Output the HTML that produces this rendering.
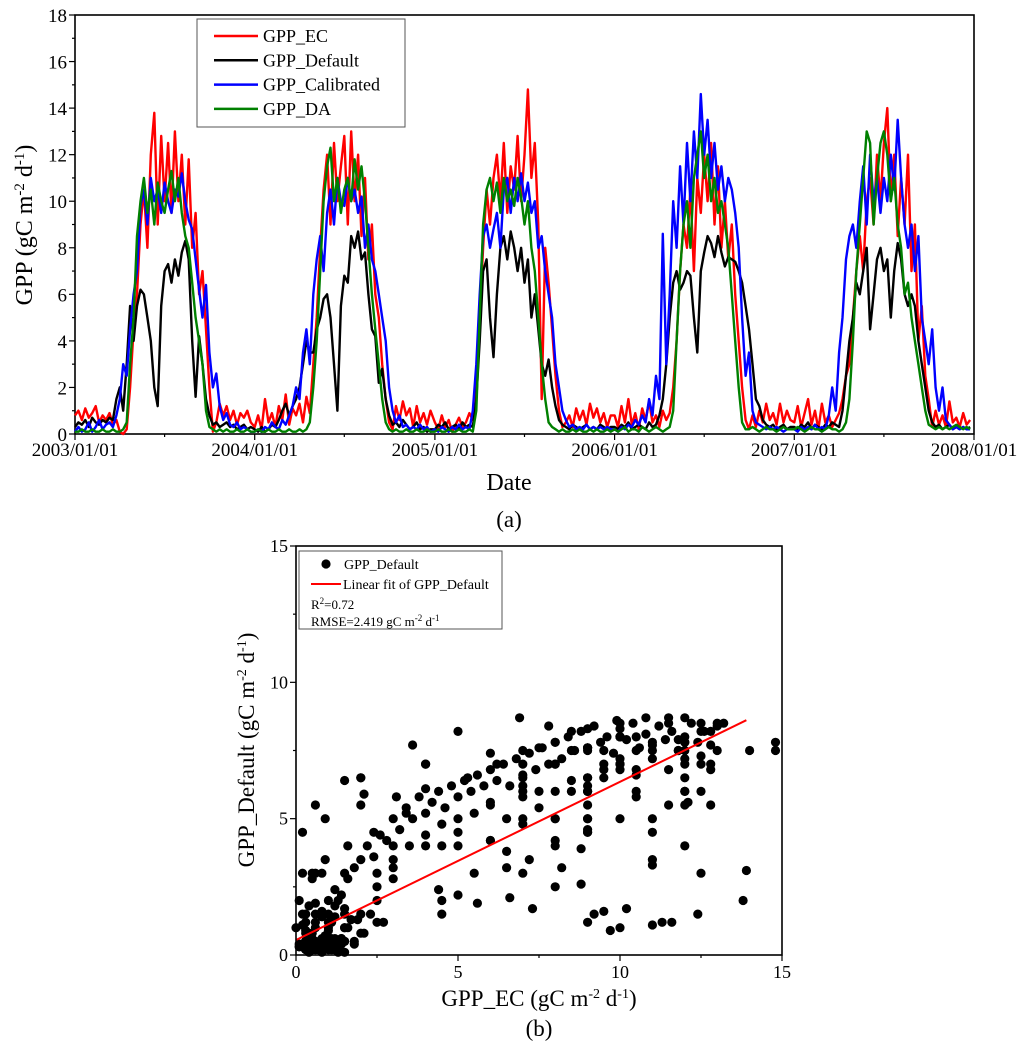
<!DOCTYPE html>
<html><head><meta charset="utf-8"><style>
body{margin:0;background:#fff;}
svg text{font-family:"Liberation Serif",serif;fill:#000;}
</style></head><body>
<svg id="svg" width="1024" height="1049" xmlns="http://www.w3.org/2000/svg">
<g id="topChart"></g>
<g id="botChart"></g>
</svg>
<script>
// ---------- Time series data (weekly samples, one array per year) ----------
const years = [2003, 2004, 2005, 2006, 2007];
const ecData = [
[0.8,1.0,0.6,1.1,0.7,0.9,1.2,0.5,0.8,0.6,0.9,0.4,0.6,0.1,0,0.2,2,4.5,6,9,10.5,8,12,13.8,9,12.8,10,12.5,9.5,13,10,12,9,11.8,8,9.5,6,7,4.5,2,0.1,0.5,1.3,0.8,1.2,0.6,1.0,0.4,0.9,0.7,1.0,0.5],
[0.3,0.8,0.2,1.5,0.5,0.9,0.3,1.2,0.6,1.7,0.4,1.1,0.8,1.3,0.5,1.6,0.9,3,5,8,10.5,12,9,12.5,10,11.5,12.8,9,13,10,12,8.5,11,7.5,9,6,5,3,1.5,0.5,0.2,1.2,0.6,1.4,0.8,1.1,0.3,1.2,0.5,0.9,0.4,1.0],
[0.5,0.2,0.8,0.3,0.6,0.1,0.4,0.7,0.3,0.5,0.9,0.6,2,5,8,10.5,9,11,12,10,12.5,9.5,11.5,10.5,12.8,10,12,14.8,11,12.5,9,1.5,8,6.5,4.5,2.5,1,0.3,0.5,0.8,0.3,1.1,0.6,1.0,0.4,1.3,0.7,1.1,0.5,0.9,0.3,0.8],
[0.8,0.3,1.2,0.5,1.5,0.4,0.9,0.2,1.1,0.6,1.4,0.5,0.8,0.3,1.0,0.6,0.9,2,4,7,9,8,10.5,7,11,9.5,12,10,12.5,9,11.5,8,10,7.5,9,6,4,2,0.6,0.2,0.8,0.3,1.0,0.5,1.3,0.6,0.9,0.4,1.3,0.5,1.0,0.6],
[0.5,1.2,0.3,0.9,1.5,0.4,1.0,0.2,1.3,0.5,0.8,0.3,0.6,0.9,1.5,2.5,3,5,7,8.5,7,10,11,9,12,10,12.5,14,10,12,8.5,11,9,12,7,9,4,5.5,2.5,1.5,0.3,1.0,0.4,0.8,0.3,1.4,0.5,0.7,0.3,0.9,0.4,0.6]
];
const defData = [
[0.3,0.5,0.4,0.6,0.3,0.7,0.5,0.4,0.6,0.5,0.7,0.6,1.5,2,1,3,5.5,4,5.5,6.2,6,5,4,2,1.2,5.5,7,7.3,6.5,7.5,6.8,7.8,8.3,7.5,4,1.6,4.2,3,1.5,0.8,0.4,0.5,0.3,0.4,0.5,0.3,0.4,0.2,0.3,0.4,0.2,0.3],
[0.2,0.1,0.3,0.1,0.2,0.4,0.3,0.6,1.0,1.3,0.8,1.2,1.5,2,3,4,3.5,3.5,4.5,5,5.8,6,5,3,1,5.5,6.8,6.5,8.5,8,8.7,7.5,7.8,6,4.5,4.2,2.2,2.8,1.5,0.8,0.4,0.5,0.3,0.6,0.4,0.2,0.3,0.5,0.2,0.3,0.1,0.2],
[0.2,0.4,0.3,0.5,0.2,0.3,0.4,0.2,0.5,0.3,0.4,0.3,1.5,4,7,7.5,5,3.3,6,8,8.5,7.5,8.7,8,7,8,6.5,7.5,5,6,4.5,3,2.5,3.2,2,1.2,0.6,0.4,0.3,0.2,0.4,0.3,0.2,0.3,0.4,0.2,0.3,0.2,0.4,0.3,0.2,0.3],
[0.3,0.2,0.4,0.3,0.5,0.2,0.3,0.4,0.3,0.2,0.5,0.3,0.4,0.8,1.5,3,5,6.5,7,6.2,6.5,7,6.8,5,3.5,7,7.8,8.5,8.2,7.6,8.5,7.8,7.2,7.6,7.5,7.4,7,6.5,5.5,4.5,3,1.5,1.2,0.6,0.4,0.3,0.4,0.2,0.3,0.4,0.2,0.3],
[0.3,0.2,0.4,0.3,0.5,0.2,0.4,0.3,0.2,0.4,0.3,0.5,0.4,0.3,1,2.5,4,5,6.5,6,7,8,4.5,6,7.5,8,7,7.5,5,7,8.2,7.5,6,5.5,6,5.5,4,3,2,1,0.5,0.3,0.4,0.2,0.3,0.4,0.2,0.3,0.2,0.3,0.2,0.3]
];
const calData = [
[0.1,0.3,0.1,0.2,0.5,0.1,0.3,0.6,0.2,0.4,0.5,0.3,0.8,1.5,3,2.5,4.5,6,7,9.8,10.5,9,11,10,10.5,9.5,10.8,10,9.5,10.5,10.2,11.2,10,9.2,8.8,7.5,6.2,5,6.4,3.5,2,2.6,1.2,0.6,0.9,0.4,0.3,0.5,0.2,0.3,0.2,0.1],
[0.1,0.2,0.1,0.3,0.2,0.5,0.3,0.2,0.6,0.4,0.8,1.2,2,1.5,3.5,4.5,3,6,7.5,8.5,7,9.5,10.5,9,11,10,9.8,11,10,10.5,9.5,10.2,8,9,7.5,7,6,5,4,2,1,0.5,0.8,0.3,0.4,0.2,0.3,0.2,0.4,0.2,0.3,0.1],
[0.2,0.1,0.3,0.2,0.1,0.3,0.2,0.4,0.2,0.3,0.2,1,3,6,8.5,9,8,8.8,9.5,8,10.5,11,9.5,11,10,11.2,10,10.8,9.5,10,8,8.5,7,6,5,3,2,1,0.6,0.3,0.4,0.2,0.3,0.2,0.4,0.2,0.3,0.2,0.3,0.2,0.3,0.2],
[0.2,0.1,0.3,0.2,0.4,0.3,0.6,0.4,0.8,0.5,1.5,0.8,2.5,1.5,8.6,3,6,10,8,11.5,9,12.5,10,13,11,14.6,12,13.5,11,12.5,10.5,11.5,10,11,10.5,9.5,8,5,2.5,3.5,1,0.5,0.4,0.3,0.2,0.3,0.2,0.3,0.2,0.1,0.2,0.2],
[0.2,0.1,0.3,0.2,0.3,0.2,0.4,0.2,0.3,0.2,0.8,2,1,3.5,5,7.5,8.5,9,8,10,11.5,9,12,10,11,9.5,11,10,12,10.5,13.5,11,9,8,9,7,8.5,5,4,3,4.5,2,1,2,0.6,0.4,0.2,0.3,0.2,0.3,0.2,0.2]
];
const daData = [
[0.1,0.1,0.2,0.1,0.1,0.2,0.1,0.1,0.2,0.1,0.1,0.2,0.1,0.1,0.2,0.5,3,5,8.5,10,11,9.5,10.5,9,10.8,10,9.5,10.5,11.3,10,11,9.5,8.5,8,6.5,5,4,3,1,0.3,0.2,0.1,0.2,0.1,0.2,0.1,0.1,0.2,0.1,0.1,0.2,0.1],
[0.1,0.2,0.1,0.1,0.2,0.1,0.1,0.2,0.1,0.1,0.2,0.1,0.1,0.2,0.1,0.2,0.5,2,4,7,10,11.5,12.3,10,11,9.5,10.5,11,10,11.8,10.5,11.5,10,8,6,4.5,3,1.5,0.5,0.2,0.1,0.2,0.1,0.1,0.2,0.1,0.1,0.2,0.1,0.1,0.2,0.1],
[0.1,0.2,0.1,0.1,0.2,0.1,0.1,0.2,0.1,0.1,0.2,0.1,1,5,9,10.5,11,10,10.8,9.5,11,10,10.5,9.8,11,10.2,9,10,8,7,5,3,1.5,0.5,0.3,0.2,0.1,0.2,0.1,0.1,0.2,0.1,0.2,0.1,0.1,0.2,0.1,0.2,0.1,0.1,0.2,0.1],
[0.2,0.1,0.2,0.3,0.1,0.2,0.2,0.1,0.3,0.2,0.1,0.2,0.3,0.2,0.1,0.2,0.3,1,4,7,9,10,8,11,12,13,11,12,10,11,9.5,10,9,8,6,4,2,0.5,0.2,0.2,0.3,0.2,0.1,0.2,0.3,0.2,0.2,0.1,0.2,0.3,0.2,0.2],
[0.2,0.3,0.2,0.1,0.2,0.3,0.2,0.2,0.1,0.2,0.3,0.2,0.2,0.1,0.2,0.5,1.5,4,7,9,11,13,12.5,9,11,12.5,13,12,10,11,9,8,6,6.5,5,4,3,2,1,0.4,0.3,0.2,0.3,0.2,0.3,0.2,0.3,0.4,0.3,0.2,0.3,0.2]
];
const yTicks = [0,2,4,6,8,10,12,14,16,18];
const xTickLabels = ["2003/01/01","2004/01/01","2005/01/01","2006/01/01","2007/01/01","2008/01/01"];
// ---------- Scatter extras and fit ----------
const extraEC = [0.5,1.5,2.1,3.6,5.0,5.6,6.9,7.3,8.2,9.2,9.7,10.2,11.0,11.3,11.6,12.4,13.9,14.8,12.1,8.8,6.6,4.4,2.7,1.8,3.1,4.0,5.3,7.8,9.9,10.8,12.8,13.2,11.8,9.0,7.0,6.2,3.4,2.4,1.2,0.8,0.3,1.0,
1.0,1.2,1.4,1.6,1.8,2.0,2.2,2.4,2.6,2.8,3.0,3.2,3.4,3.6,3.8,4.0,4.2,4.4,4.6,4.8,5.0,5.2,5.4,5.6,5.8,6.0,6.2,6.4,6.6,6.8,7.0,7.2,7.4,7.6,7.8,8.0,8.2,8.4,8.6,8.8,9.0,9.2,9.4,9.6,9.8,10.0,10.2,10.4,10.6,10.8,11.0,11.2,11.4,11.6,11.8,12.0,12.2,12.4,12.6,12.8,13.0,
2.5,3.0,3.5,4.0,4.5,5.5,6.0,6.5,7.0,7.5,8.0,8.5,9.0,9.5,10.0,10.5,11.0,11.5,12.0,7.0,8.0,9.0,6.5,7.2,8.8,
0.2,0.4,0.6,0.8,1.0,1.2,1.4,1.6,1.8,0.3,0.5,0.7,0.9,1.1,1.3,0.1,0.2,0.6,1.5,1.9,2.1,2.3];
const extraDef = [2.8,6.4,5.9,7.7,8.2,1.9,8.7,1.7,3.2,1.5,0.9,1.7,1.1,1.2,1.2,1.5,3.1,7.8,5.6,2.6,2.1,2.4,1.2,0.5,5.8,6.1,6.5,8.4,8.6,8.7,8.2,8.5,7.9,7.6,7.5,7.0,5.2,4.5,1.8,1.4,1.2,0.9,
2.0,2.4,2.2,2.8,3.2,3.5,4.0,3.6,4.4,4.2,5.0,4.6,5.4,5.0,5.8,5.2,5.6,6.0,5.4,6.2,5.8,6.4,6.0,6.6,6.2,6.8,6.4,7.0,6.2,7.2,6.6,7.4,6.8,7.6,7.0,7.8,7.2,8.0,7.5,8.2,7.6,8.4,7.8,8.0,7.4,8.3,7.9,8.5,7.6,8.1,7.7,8.4,7.9,8.2,7.5,8.0,8.5,7.8,8.2,7.7,8.4,
3.0,3.2,4.0,4.4,4.8,5.2,5.6,5.0,5.8,5.4,6.0,6.4,6.0,6.8,7.0,6.6,7.2,6.8,7.2,4.8,4.2,4.6,3.8,3.5,3.9,
1.5,1.8,1.2,1.6,1.0,1.4,0.6,1.0,0.4,0.9,0.5,0.2,0.7,0.3,0.1,0.3,1.1,1.9,1.7,1.3,0.8,1.5];
const fitIntercept = 0.55, fitSlope = 0.58, fitXMax = 13.9;
const sTicks = [0,5,10,15];

const NS = "http://www.w3.org/2000/svg";
function mk(parent, tag, attrs, text){
  const e = document.createElementNS(NS, tag);
  for (const k in attrs) e.setAttribute(k, attrs[k]);
  if (text !== undefined) e.textContent = text;
  parent.appendChild(e); return e;
}
// ---------- Top chart ----------
const topG = document.getElementById('topChart');
const L=75, R=974, T=15, B=434;
const xT = d => L + (d/(365*5+1))*(R-L);
const yT = v => B - v/18*(B-T);
let el;
el = mk(topG,'rect',{x:L,y:T,width:R-L,height:B-T,fill:'none',stroke:'#000','stroke-width':1.6});


for (let v=0; v<=18; v++){
  const y=yT(v), major = v%2===0;
  el = mk(topG,'line',{x1:L-(major?6:3),x2:L,y1:y,y2:y,stroke:'#000','stroke-width':1.2});
  
  
}
yTicks.forEach(v=>{
  el = mk(topG,'text',{x:L-8,y:yT(v)+7,'text-anchor':'end','font-size':19},String(v));
  
  
});
const yearStart = [0,365,731,1096,1461,1826];
for (let i=0;i<yearStart.length;i++){
  const x=xT(yearStart[i]);
  el = mk(topG,'line',{x1:x,x2:x,y1:B,y2:B+6,stroke:'#000','stroke-width':1.2});
  
  
  el = mk(topG,'text',{x:x,y:B+22,'text-anchor':'middle','font-size':19},xTickLabels[i]);
  
  
  if (i<5){
    const xm=xT(yearStart[i]+182);
    el = mk(topG,'line',{x1:xm,x2:xm,y1:B,y2:B+3,stroke:'#000','stroke-width':1.2});
    
    
  }
}
el = mk(topG,'text',{x:509,y:490,'text-anchor':'middle','font-size':24},'Date');


el = mk(topG,'text',{x:0,y:0,'text-anchor':'middle','font-size':24,transform:'translate(32,225) rotate(-90)'});


el.innerHTML = 'GPP (gC m<tspan dy="-8" font-size="15">-2</tspan><tspan dy="8"> d</tspan><tspan dy="-8" font-size="15">-1</tspan><tspan dy="8">)</tspan>';
el = mk(topG,'text',{x:509,y:527,'text-anchor':'middle','font-size':23},'(a)');



const seriesList = [[ecData,'#ff0000','series-gpp-ec'],[defData,'#000000','series-gpp-default'],[calData,'#0000ff','series-gpp-calibrated'],[daData,'#008000','series-gpp-da']];
seriesList.forEach(([data,color,name])=>{
  let pts=[];
  data.forEach((yr,yi)=>{
    yr.forEach((v,i)=>{ pts.push(xT(yearStart[yi]+i*7).toFixed(1)+','+yT(v).toFixed(1)); });
  });
  el = mk(topG,'polyline',{points:pts.join(' '),fill:'none',stroke:color,'stroke-width':2.4,'stroke-linejoin':'round'});
  
  
});
// legend
el = mk(topG,'rect',{x:197,y:19,width:208,height:108,fill:'#fff',stroke:'#555','stroke-width':1});


const legNames=['GPP_EC','GPP_Default','GPP_Calibrated','GPP_DA'];
seriesList.forEach(([d,color],i)=>{
  const y=36+i*24.3;
  el = mk(topG,'line',{x1:214,x2:258,y1:y,y2:y,stroke:color,'stroke-width':2.5});
  
  
  el = mk(topG,'text',{x:263,y:y+6,'font-size':18},legNames[i]);
  
  
});
// ---------- Bottom scatter ----------
const botG = document.getElementById('botChart');
const SL=296, SR=782, ST=546, SB=955;
const xS = v => SL + v/15*(SR-SL);
const yS = v => SB - v/15*(SB-ST);
const g = mk(botG,'g',{});


function dot(x,y){
  const c = mk(g,'circle',{cx:xS(x).toFixed(1),cy:yS(y).toFixed(1),r:4.6,fill:'#000'});
  
  
}
ecData.forEach((yr,yi)=>yr.forEach((v,i)=>dot(v,defData[yi][i])));
extraEC.forEach((v,i)=>dot(v,extraDef[i]));
el = mk(botG,'line',{x1:xS(0),y1:yS(fitIntercept),x2:xS(fitXMax),y2:yS(fitIntercept+fitSlope*fitXMax),stroke:'#ff0000','stroke-width':2});


el = mk(botG,'rect',{x:SL,y:ST,width:SR-SL,height:SB-ST,fill:'none',stroke:'#000','stroke-width':1.6});


for (let k=0;k<=6;k++){
  const v=k*2.5, major=k%2===0;
  el = mk(botG,'line',{x1:SL-(major?6:3),x2:SL,y1:yS(v),y2:yS(v),stroke:'#000','stroke-width':1.2});
  
  
  el = mk(botG,'line',{x1:xS(v),x2:xS(v),y1:SB,y2:SB+(major?6:3),stroke:'#000','stroke-width':1.2});
  
  
}
sTicks.forEach(v=>{
  el = mk(botG,'text',{x:SL-8,y:yS(v)+6,'text-anchor':'end','font-size':18},String(v));
  
  
  el = mk(botG,'text',{x:xS(v),y:SB+23,'text-anchor':'middle','font-size':18},String(v));
  
  
});
el = mk(botG,'text',{x:539,y:1006,'text-anchor':'middle','font-size':23});


el.innerHTML = 'GPP_EC (gC m<tspan dy="-8" font-size="14">-2</tspan><tspan dy="8"> d</tspan><tspan dy="-8" font-size="14">-1</tspan><tspan dy="8">)</tspan>';
el = mk(botG,'text',{x:0,y:0,'text-anchor':'middle','font-size':23,transform:'translate(254,750) rotate(-90)'});


el.innerHTML = 'GPP_Default (gC m<tspan dy="-8" font-size="14">-2</tspan><tspan dy="8"> d</tspan><tspan dy="-8" font-size="14">-1</tspan><tspan dy="8">)</tspan>';
el = mk(botG,'text',{x:539,y:1036,'text-anchor':'middle','font-size':23},'(b)');


// scatter legend
el = mk(botG,'rect',{x:299,y:551,width:203,height:78,fill:'#fff',stroke:'#555','stroke-width':1});


el = mk(botG,'circle',{cx:326,cy:564,r:4.6,fill:'#000'});


el = mk(botG,'text',{x:344,y:569,'font-size':14},'GPP_Default');


el = mk(botG,'line',{x1:311,x2:341,y1:584,y2:584,stroke:'#ff0000','stroke-width':2});


el = mk(botG,'text',{x:343,y:589,'font-size':14},'Linear fit of GPP_Default');


el = mk(botG,'text',{x:311,y:609,'font-size':13});


el.innerHTML = 'R<tspan dy="-5" font-size="9">2</tspan><tspan dy="5">=0.72</tspan>';
el = mk(botG,'text',{x:311,y:626,'font-size':13});


el.innerHTML = 'RMSE=2.419 gC m<tspan dy="-5" font-size="9">-2</tspan><tspan dy="5"> d</tspan><tspan dy="-5" font-size="9">-1</tspan>';
</script>
</body></html>
